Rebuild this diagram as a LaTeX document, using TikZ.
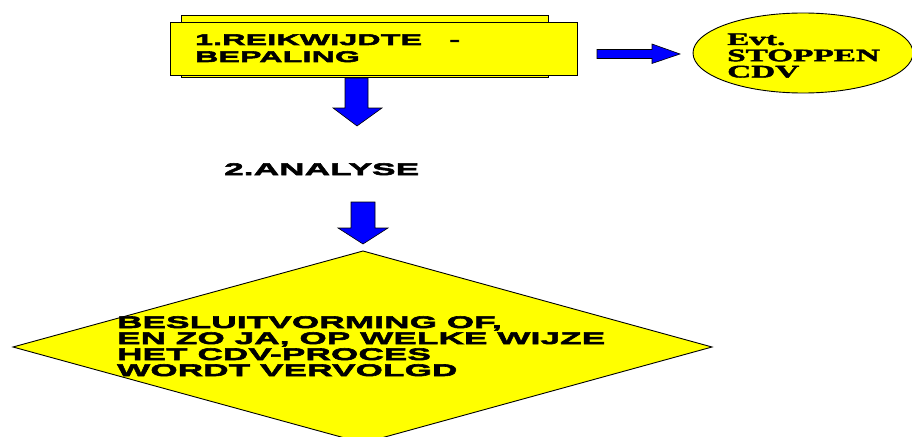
\documentclass[tikz,border=0pt]{standalone}
\usepackage{fontspec}
\newfontfamily\widesans[FakeStretch=2.08,FakeBold=3.5,LetterSpace=1.5]{Liberation Sans Bold}
\newfontfamily\wideserif[FakeStretch=1.9,FakeBold=2.5]{Liberation Serif Bold}
\definecolor{boxyellow}{HTML}{FFFF00}
\definecolor{arrowblue}{HTML}{0000FF}
\tikzset{
  panel/.style={draw=black, line width=0.9pt, fill=boxyellow},
  blockarrow/.style={draw=black, line width=0.6pt, fill=arrowblue},
  label/.style={inner sep=0pt, anchor=base west, text=black},
}
\begin{document}
\begin{tikzpicture}[x=1pt,y=-1pt]
\useasboundingbox (0,0) rectangle (912,436);

% step 1: raised box
\draw[panel] (181,15) rectangle (548,77);
\draw[panel] (170,22) rectangle (577,75);
\node[label] (scope) at (195,45)
  {\widesans\fontsize{15.4}{17}\selectfont\vtop{\baselineskip=17pt\hbox{1.REIKWIJDTE\ \ \ -}\hbox{BEPALING}}};

% possible stop
\draw[panel] (803,53) ellipse [x radius=110, y radius=40];
\node[label] (stop) at (727,45)
  {\wideserif\fontsize{17.5}{16.2}\selectfont\vtop{\baselineskip=16.2pt\hbox{Evt.}\hbox{STOPPEN}\hbox{CDV}}};

% arrow to the stop ellipse
\draw[blockarrow] (597,49.5) -- (652,49.5) -- (652,44) -- (680,54) -- (652,63.5)
  -- (652,58.5) -- (597,58.5) -- cycle;

% arrow to step 2
\draw[blockarrow] (345,78) -- (368,78) -- (368,108) -- (382,108) -- (357,126)
  -- (333,108) -- (345,108) -- cycle;

% step 2
\node[label] (analysis) at (224,175)
  {\widesans\fontsize{16.8}{17}\selectfont 2.ANALYSE};

% arrow to decision
\draw[blockarrow] (351,202) -- (375,202) -- (375,228) -- (388,228) -- (363,244)
  -- (338,228) -- (351,228) -- cycle;

% decision
\draw[panel] (363,251) -- (712,347) -- (363,443) -- (13,347) -- cycle;
\node[label] (decision) at (117,328)
  {\widesans\fontsize{16.8}{16}\selectfont\vtop{\baselineskip=16pt
    \hbox{BESLUITVORMING OF,}\hbox{EN ZO JA, OP WELKE WIJZE}\hbox{HET CDV-PROCES}\hbox{WORDT VERVOLGD}}};
\end{tikzpicture}
\end{document}
